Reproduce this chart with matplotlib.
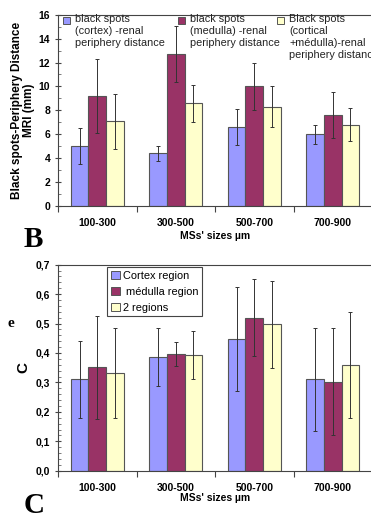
import numpy as np
import matplotlib.pyplot as plt
from matplotlib.patches import Rectangle
from matplotlib.ticker import MultipleLocator, FixedLocator, NullFormatter

# MS size classes
categories = ['100-300', '300-500', '500-700', '700-900']

# B: black spots - periphery distance on MRI (mm)
dist_cortex = [5.0, 4.4, 6.6, 6.0]
dist_cortex_err = [1.5, 0.65, 1.5, 0.8]
dist_medulla = [9.2, 12.7, 10.0, 7.6]
dist_medulla_err = [3.1, 2.35, 2.0, 1.9]
dist_both = [7.1, 8.6, 8.3, 6.8]
dist_both_err = [2.3, 1.55, 1.7, 1.4]

# C: contrast
c_cortex = [0.31, 0.387, 0.447, 0.31]
c_cortex_err = [0.13, 0.098, 0.176, 0.175]
c_medulla = [0.352, 0.397, 0.52, 0.303]
c_medulla_err = [0.175, 0.04, 0.13, 0.182]
c_both = [0.333, 0.393, 0.497, 0.358]
c_both_err = [0.153, 0.082, 0.148, 0.18]

colors = ['#9999FF', '#993366', '#FFFFCC']
edge = '#555555'
bold = dict(fontweight='bold', family='Liberation Sans')

fig = plt.figure(figsize=(3.71, 5.14), dpi=100)
W, H = 371.0, 514.0

def setup(ax, ymax, major, minor, fmt):
    x = np.arange(len(categories))
    ax.set_xlim(-0.5, 3.5)
    ax.set_ylim(0, ymax)
    ax.spines['right'].set_visible(False)
    for s in ax.spines.values():
        s.set_color('#444444')
        s.set_linewidth(0.8)
    ax.xaxis.set_major_locator(FixedLocator(np.arange(-0.5, 3.6, 1.0)))
    ax.xaxis.set_major_formatter(NullFormatter())
    ax.xaxis.set_minor_locator(FixedLocator(x))
    ax.set_xticklabels(categories, minor=True, fontsize=7.5, **bold)
    ax.tick_params(axis='x', which='major', direction='out', length=4, color='#444444')
    ax.tick_params(axis='x', which='minor', length=0, pad=9)
    ax.yaxis.set_major_locator(MultipleLocator(major))
    ax.yaxis.set_minor_locator(MultipleLocator(minor))
    ax.yaxis.set_major_formatter(fmt)
    ax.tick_params(axis='y', which='major', direction='inout', length=5, color='#444444', labelsize=7.5, pad=3)
    ax.tick_params(axis='y', which='minor', direction='in', length=2.5, color='#666666')
    for lab in ax.get_yticklabels():
        lab.set_fontweight('bold')
        lab.set_family('Liberation Sans')
    ax.set_xlabel("MSs' sizes µm", fontsize=7.5, labelpad=2, **bold)

def bars(ax, series, errs):
    x = np.arange(len(categories))
    w = 0.223
    for i, (vals, err) in enumerate(zip(series, errs)):
        ax.bar(x + (i - 1) * w, vals, w, color=colors[i], edgecolor=edge, linewidth=0.8,
               yerr=err, error_kw=dict(ecolor='#333333', elinewidth=0.7, capsize=1.5, capthick=0.7),
               zorder=2)

# ---- panel B ----
ax1 = fig.add_axes([58 / W, 1 - 206 / H, 314 / W, (206 - 14.7) / H])
bars(ax1, [dist_cortex, dist_medulla, dist_both], [dist_cortex_err, dist_medulla_err, dist_both_err])
setup(ax1, 16, 2, 1, lambda v, p: '%d' % v)
ax1.set_ylabel('Black spots-Periphery Distance\nMRI (mm)', fontsize=8.5, linespacing=1.0, labelpad=3, **bold)

# legend of panel B (three multi-line entries at the top)
leg_b = [(63, 'black spots\n(cortex) -renal\nperiphery distance'),
         (178, 'black spots\n(medulla) -renal\nperiphery distance'),
         (277, 'Black spots\n(cortical\n+médulla)-renal\nperiphery distance')]
for i, (lx, txt) in enumerate(leg_b):
    fig.add_artist(Rectangle((lx / W, 1 - 24 / H), 7 / W, 7 / H, transform=fig.transFigure,
                             facecolor=colors[i], edgecolor=edge, linewidth=0.7))
    fig.text((lx + 12) / W, 1 - 14 / H, txt, fontsize=7.8, va='top', ha='left',
             linespacing=1.25, family='Liberation Sans', color='#222222')

fig.text(24 / W, 1 - 247 / H, 'B', fontsize=21, fontweight='bold', family='Liberation Serif')

# ---- panel C ----
ax2 = fig.add_axes([58 / W, 1 - 470.7 / H, 314 / W, (470.7 - 264.7) / H])
bars(ax2, [c_cortex, c_medulla, c_both], [c_cortex_err, c_medulla_err, c_both_err])
setup(ax2, 0.7, 0.1, 0.02, lambda v, p: ('%.1f' % v).replace('.', ','))
ax2.xaxis.labelpad = 0
ax2.set_ylabel('C', fontsize=11, labelpad=4, **bold)
handles = [Rectangle((0, 0), 1, 1, facecolor=c, edgecolor=edge, linewidth=0.7) for c in colors]
leg = ax2.legend(handles, ['Cortex region', ' médulla region', '2 regions'],
                 loc='upper left', bbox_to_anchor=(49 / 314, 1 - 2 / 206),
                 prop=dict(family='Liberation Sans', size=7.9),
                 handlelength=0.8, handleheight=0.8, handletextpad=0.3,
                 labelspacing=0.55, borderpad=0.35, borderaxespad=0,
                 fancybox=False, framealpha=1, edgecolor='#444444')
leg.get_frame().set_linewidth(0.8)

fig.text(7 / W, 1 - 327 / H, 'e', fontsize=11, fontweight='bold', family='Liberation Serif')
fig.text(24 / W, 1 - 513 / H, 'C', fontsize=21, fontweight='bold', family='Liberation Serif')

fig.savefig('out.png', dpi=100)
